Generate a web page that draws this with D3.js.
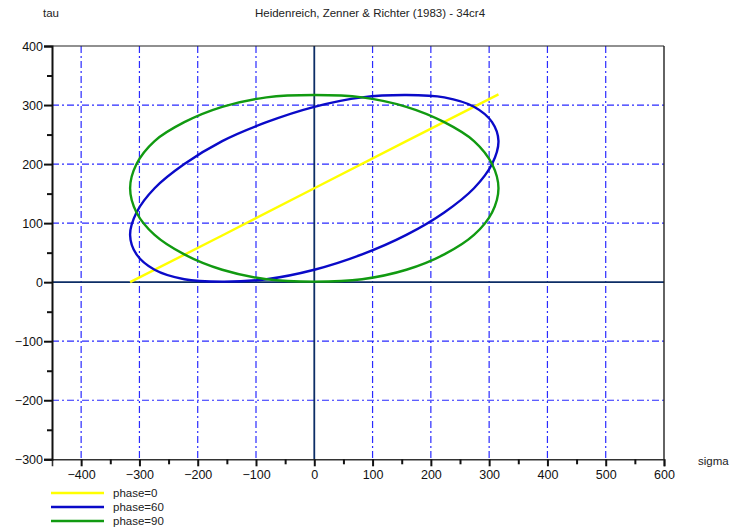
<!DOCTYPE html>
<html>
<head>
<meta charset="utf-8">
<script src="https://cdn.jsdelivr.net/npm/d3@7"></script>
<style>
  html, body { margin: 0; padding: 0; background: #fff; }
  svg { display: block; font-family: "Liberation Sans", Arial, sans-serif; }
</style>
</head>
<body>
<svg id="chart" width="739" height="530"></svg>
<script>
// Stress paths in the sigma–tau plane for three phase shifts
const titleText = "Heidenreich, Zenner & Richter (1983) - 34cr4";
const xTicks = [-400, -300, -200, -100, 0, 100, 200, 300, 400, 500, 600];
const yTicks = [-300, -200, -100, 0, 100, 200, 300, 400];
const seriesNames = ["phase=0", "phase=60", "phase=90"];

// phase = 0 : straight path
const sigma0 = [-316, -158, 0, 158, 316];
const tau0   = [0, 79, 159, 239, 318];

// phase = 60 : tilted ellipse
const sigma60 = [0, 82, 158, 223, 274, 305, 316, 305, 274, 223, 158, 82,
                 0, -82, -158, -223, -274, -305, -316, -305, -274, -223, -158, -82];
const tau60   = [297, 313, 317, 313, 297, 271, 239, 200, 159, 118, 80, 47,
                 21, 5, 1, 5, 21, 47, 80, 118, 159, 200, 239, 271];

// phase = 90 : upright ellipse
const sigma90 = [0, 82, 158, 223, 274, 305, 316, 305, 274, 223, 158, 82,
                 0, -82, -158, -223, -274, -305, -316, -305, -274, -223, -158, -82];
const tau90   = [317, 313, 297, 271, 239, 200, 159, 118, 80, 47, 21, 5,
                 1, 5, 21, 47, 80, 118, 159, 200, 239, 271, 297, 313];

const colors = ["#ffff00", "#0a0ac8", "#119a11"];

const svg = d3.select("#chart");
const pLeft = 52, pRight = 664, pTop = 46, pBottom = 459.3;

const x = d3.scaleLinear().domain([-450, 600]).range([pLeft, pRight]);
const y = d3.scaleLinear().domain([-300, 400]).range([pBottom, pTop]);

// grid (dash-dot), skipping the zero lines
const grid = svg.append("g");
grid.selectAll("line.gx").data(xTicks.filter(d => d !== 0 && d !== 600)).join("line")
  .attr("x1", d => x(d)).attr("x2", d => x(d)).attr("y1", pTop).attr("y2", pBottom)
  .attr("stroke", "#2a2aff").attr("stroke-width", 1.2).attr("stroke-dasharray", "7,3,2,3");
grid.selectAll("line.gy").data(yTicks.filter(d => d !== 0 && d !== -300 && d !== 400)).join("line")
  .attr("x1", pLeft).attr("x2", pRight).attr("y1", d => y(d)).attr("y2", d => y(d))
  .attr("stroke", "#2a2aff").attr("stroke-width", 1.2).attr("stroke-dasharray", "7,3,2,3");

// zero lines
svg.append("line").attr("x1", x(0)).attr("x2", x(0)).attr("y1", pTop).attr("y2", pBottom)
  .attr("stroke", "#0c2d66").attr("stroke-width", 1.8);
svg.append("line").attr("x1", pLeft).attr("x2", pRight).attr("y1", y(0)).attr("y2", y(0))
  .attr("stroke", "#0c2d66").attr("stroke-width", 1.8);

// frame top and right
svg.append("line").attr("x1", pLeft).attr("x2", pRight).attr("y1", pTop).attr("y2", pTop)
  .attr("stroke", "#222").attr("stroke-width", 1.2);
svg.append("line").attr("x1", pRight).attr("x2", pRight).attr("y1", pTop).attr("y2", pBottom)
  .attr("stroke", "#222").attr("stroke-width", 1.4);

// curves
const series = [
  { s: sigma0, t: tau0, closed: false },
  { s: sigma60, t: tau60, closed: true },
  { s: sigma90, t: tau90, closed: true }
];
series.forEach((sr, i) => {
  const pts = sr.s.map((v, k) => [v, sr.t[k]]);
  const line = d3.line().x(d => x(d[0])).y(d => y(d[1]))
    .curve(sr.closed ? d3.curveCatmullRomClosed : d3.curveLinear);
  svg.append("path").datum(pts).attr("d", line)
    .attr("fill", "none").attr("stroke", colors[i]).attr("stroke-width", 2.4)
    .attr("stroke-linejoin", "round");
});

// axes
const minorX = d3.range(-450, 601, 50).filter(d => d % 100 !== 0 && d > -450);
const minorY = d3.range(-250, 400, 50).filter(d => d % 100 !== 0);

const xAxis = svg.append("g").attr("transform", `translate(0,${pBottom})`)
  .call(d3.axisBottom(x).tickValues(xTicks).tickSize(7).tickPadding(4));
xAxis.select(".domain").attr("stroke", "#333").attr("stroke-width", 1.6);
xAxis.selectAll(".tick line").attr("stroke", "#111").attr("stroke-width", 2);
xAxis.selectAll(".tick text").attr("font-size", 12.5).attr("fill", "#111")
  .attr("font-family", "Liberation Sans, Arial, sans-serif");
const xMin = svg.append("g").attr("transform", `translate(0,${pBottom})`)
  .call(d3.axisBottom(x).tickValues(minorX).tickSize(5).tickFormat(""));
xMin.select(".domain").remove();
xMin.selectAll(".tick line").attr("stroke", "#111").attr("stroke-width", 2);

const yAxis = svg.append("g").attr("transform", `translate(${pLeft},0)`)
  .call(d3.axisLeft(y).tickValues(yTicks).tickSize(8).tickPadding(1));
yAxis.select(".domain").attr("stroke", "#111").attr("stroke-width", 2);
yAxis.selectAll(".tick line").attr("stroke", "#111").attr("stroke-width", 2);
yAxis.selectAll(".tick text").attr("font-size", 12.5).attr("fill", "#111")
  .attr("font-family", "Liberation Sans, Arial, sans-serif");
const yMin = svg.append("g").attr("transform", `translate(${pLeft},0)`)
  .call(d3.axisLeft(y).tickValues(minorY).tickSize(5).tickFormat(""));
yMin.select(".domain").remove();
yMin.selectAll(".tick line").attr("stroke", "#111").attr("stroke-width", 2);

// labels
svg.append("text").attr("x", 370).attr("y", 17).attr("text-anchor", "middle")
  .attr("font-size", 11.5).attr("fill", "#222").text(titleText);
svg.append("text").attr("x", 43).attr("y", 17)
  .attr("font-size", 11.5).attr("fill", "#222").text("tau");
svg.append("text").attr("x", 698).attr("y", 465)
  .attr("font-size", 11.5).attr("fill", "#222").text("sigma");

// legend
const legend = svg.append("g");
seriesNames.forEach((name, i) => {
  const ly = 493 + i * 14;
  legend.append("line").attr("x1", 51).attr("x2", 104).attr("y1", ly).attr("y2", ly)
    .attr("stroke", colors[i]).attr("stroke-width", 2.4);
  legend.append("text").attr("x", 113).attr("y", ly + 4)
    .attr("font-size", 11.5).attr("fill", "#222").text(name);
});
</script>
</body>
</html>
